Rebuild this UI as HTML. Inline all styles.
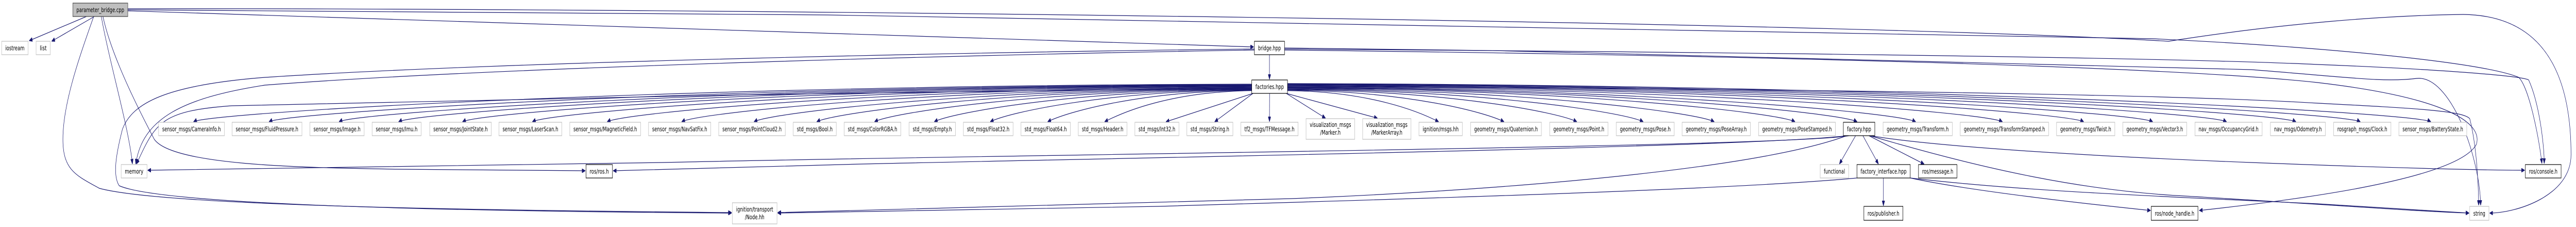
<!DOCTYPE html>
<html><head><meta charset="utf-8"><style>
html,body{margin:0;padding:0;background:#fff;width:100%;height:440px;overflow:hidden;}
svg{display:block;overflow:hidden;}
text{font-family:"DejaVu Sans","Liberation Sans",sans-serif;font-size:12.5px;fill:#000;text-anchor:middle;}
.u{fill:#fff;stroke:#bfbfbf;stroke-width:1.2;}
.d{fill:#fff;stroke:#000;stroke-width:1.2;}
.r{fill:#bfbfbf;stroke:#404040;stroke-width:1.2;}
.e{fill:none;stroke:#191970;stroke-width:1.2;marker-end:url(#a);}
</style></head><body>
<svg id="s" width="100%" height="440" viewBox="0 0 7781 440" preserveAspectRatio="none" xmlns="http://www.w3.org/2000/svg">
<defs><marker id="a" markerUnits="userSpaceOnUse" viewBox="0 0 10 8" refX="10" refY="4" markerWidth="10" markerHeight="8" orient="auto"><path d="M0,0L10,4L0,8z" fill="#191970" stroke="#191970"/></marker></defs>
<g id="edges">
<path class="e" d="M261,32 L88,79"/>
<path class="e" d="M285,32 L156,80"/>
<path class="e" d="M306,32 C330,120 390,250 400,318"/>
<path class="e" d="M311,32 C340,120 450,250 466,270 C520,320 900,325 1200,328 C1500,330 1700,331 1768,331"/>
<path class="e" d="M283,32 C240,110 190,200 190,270 C190,330 230,340 300,365 C500,400 1500,408 2210,412"/>
<path class="e" d="M386,21 L3787,91"/>
<path class="e" d="M386,19 C2500,22 5500,55 6500,75 C7000,90 7500,120 7608,150 C7640,170 7670,270 7678,317"/>
<path class="e" d="M3880,95 C5000,100 6500,110 7000,125 C7400,135 7620,148 7638,155 C7670,200 7685,280 7685,317"/>
<path class="e" d="M386,17 C2000,15 5500,40 6550,80 C6900,45 7200,30 7440,28 C7690,30 7766,150 7766,300 C7766,380 7600,413 7520,413"/>
<path class="e" d="M3880,93 C5000,100 6300,120 6800,135 C7100,150 7200,160 7300,152 C7400,145 7490,300 7493,398"/>
<path class="e" d="M3880,97 C5000,105 6500,125 7000,160 C7400,190 7500,240 7480,280 C7420,350 6900,390 6643,408"/>
<path class="e" d="M3889,168 C5000,170 6500,180 7000,200 C7300,210 7440,215 7460,230 C7480,280 7486,350 7487,398"/>
<path class="e" d="M5650,263 C5800,280 6200,300 6800,315 C7200,325 7500,330 7626,330"/>
<path class="e" d="M5648,263 C6000,330 6300,370 6600,380 C7000,395 7300,410 7458,413"/>
<path class="e" d="M5770,345 C6100,370 6500,380 7000,395 C7200,402 7400,410 7458,413"/>
<path class="e" d="M5770,345 C5950,370 6300,395 6496,408"/>
<path class="e" d="M5605,263 L5556,318"/>
<path class="e" d="M5627,263 L5674,318"/>
<path class="e" d="M5645,263 L5812,318"/>
<path class="e" d="M5689,345 L5689,399"/>
<path class="e" d="M5585,263 C5400,285 3000,300 2000,315 C1000,325 600,330 446,330"/>
<path class="e" d="M5580,263 C5300,285 3500,305 2600,318 C2200,325 2000,330 1852,331"/>
<path class="e" d="M5578,263 C5300,330 4500,370 3900,385 C3200,400 2600,410 2349,412"/>
<path class="e" d="M5609,345 C5200,370 4000,390 3500,400 C3000,405 2600,412 2349,413"/>
<path class="e" d="M3834.5,106 L3834.5,154"/>
<path class="e" d="M3789,95 C3000,100 1500,120 800,150 C500,165 400,200 370,250 C350,300 340,340 360,360 C500,400 1500,410 2210,413"/>
<path class="e" d="M3789,97 C3000,105 1500,130 800,165 C550,190 430,230 410,318"/>
<path class="e" d="M3781,170 C3000,175 1500,190 700,205 C480,215 470,240 412,318"/>
</g>
<g id="fan"></g>
<rect class="r" x="220" y="6" width="166" height="26"/><text x="303" y="23.5" textLength="144" lengthAdjust="spacingAndGlyphs">parameter_bridge.cpp</text>
<rect class="u" x="5" y="80" width="80" height="26"/><text x="45" y="97.5" textLength="58" lengthAdjust="spacingAndGlyphs">iostream</text>
<rect class="u" x="109" y="80" width="43" height="26"/><text x="130.5" y="97.5" textLength="21" lengthAdjust="spacingAndGlyphs">list</text>
<rect class="d" x="3789" y="80" width="91" height="26"/><text x="3834.5" y="97.5" textLength="69" lengthAdjust="spacingAndGlyphs">bridge.hpp</text>
<rect class="d" x="3781" y="155" width="108" height="26"/><text x="3835" y="172.5" textLength="86" lengthAdjust="spacingAndGlyphs">factories.hpp</text>

<rect class="u" x="479" y="237" width="199" height="26"/><text x="578.5" y="254.5" textLength="177" lengthAdjust="spacingAndGlyphs">sensor_msgs/CameraInfo.h</text>
<rect class="u" x="701" y="237" width="211" height="26"/><text x="806.5" y="254.5" textLength="189" lengthAdjust="spacingAndGlyphs">sensor_msgs/FluidPressure.h</text>
<rect class="u" x="936" y="237" width="164" height="26"/><text x="1018" y="254.5" textLength="142" lengthAdjust="spacingAndGlyphs">sensor_msgs/Image.h</text>
<rect class="u" x="1124" y="237" width="148" height="26"/><text x="1198" y="254.5" textLength="126" lengthAdjust="spacingAndGlyphs">sensor_msgs/Imu.h</text>
<rect class="u" x="1298" y="237" width="186" height="26"/><text x="1391" y="254.5" textLength="164" lengthAdjust="spacingAndGlyphs">sensor_msgs/JointState.h</text>
<rect class="u" x="1507" y="237" width="190" height="26"/><text x="1602" y="254.5" textLength="168" lengthAdjust="spacingAndGlyphs">sensor_msgs/LaserScan.h</text>
<rect class="u" x="1721" y="237" width="214" height="26"/><text x="1828" y="254.5" textLength="192" lengthAdjust="spacingAndGlyphs">sensor_msgs/MagneticField.h</text>
<rect class="u" x="1959" y="237" width="188" height="26"/><text x="2053" y="254.5" textLength="166" lengthAdjust="spacingAndGlyphs">sensor_msgs/NavSatFix.h</text>
<rect class="u" x="2171" y="237" width="201" height="26"/><text x="2271.5" y="254.5" textLength="179" lengthAdjust="spacingAndGlyphs">sensor_msgs/PointCloud2.h</text>
<rect class="u" x="2396" y="237" width="130" height="26"/><text x="2461" y="254.5" textLength="108" lengthAdjust="spacingAndGlyphs">std_msgs/Bool.h</text>
<rect class="u" x="2550" y="237" width="171" height="26"/><text x="2635.5" y="254.5" textLength="149" lengthAdjust="spacingAndGlyphs">std_msgs/ColorRGBA.h</text>
<rect class="u" x="2746" y="237" width="140" height="26"/><text x="2816" y="254.5" textLength="118" lengthAdjust="spacingAndGlyphs">std_msgs/Empty.h</text>
<rect class="u" x="2910" y="237" width="150" height="26"/><text x="2985" y="254.5" textLength="128" lengthAdjust="spacingAndGlyphs">std_msgs/Float32.h</text>
<rect class="u" x="3084" y="237" width="149" height="26"/><text x="3158.5" y="254.5" textLength="127" lengthAdjust="spacingAndGlyphs">std_msgs/Float64.h</text>
<rect class="u" x="3257" y="237" width="147" height="26"/><text x="3330.5" y="254.5" textLength="125" lengthAdjust="spacingAndGlyphs">std_msgs/Header.h</text>
<rect class="u" x="3428" y="237" width="133" height="26"/><text x="3494.5" y="254.5" textLength="111" lengthAdjust="spacingAndGlyphs">std_msgs/Int32.h</text>
<rect class="u" x="3585" y="237" width="139" height="26"/><text x="3654.5" y="254.5" textLength="117" lengthAdjust="spacingAndGlyphs">std_msgs/String.h</text>
<rect class="u" x="3748" y="237" width="173" height="26"/><text x="3834.5" y="254.5" textLength="151" lengthAdjust="spacingAndGlyphs">tf2_msgs/TFMessage.h</text>
<rect class="u" x="3945" y="230" width="147" height="40"/><text x="4018.5" y="246" textLength="125" lengthAdjust="spacingAndGlyphs">visualization_msgs</text><text x="4018.5" y="261" textLength="62" lengthAdjust="spacingAndGlyphs">/Marker.h</text>
<rect class="u" x="4116" y="230" width="146" height="40"/><text x="4189" y="246" textLength="125" lengthAdjust="spacingAndGlyphs">visualization_msgs</text><text x="4189" y="261" textLength="94" lengthAdjust="spacingAndGlyphs">/MarkerArray.h</text>
<rect class="u" x="4286" y="237" width="131" height="26"/><text x="4351.5" y="254.5" textLength="109" lengthAdjust="spacingAndGlyphs">ignition/msgs.hh</text>
<rect class="u" x="4442" y="237" width="214" height="26"/><text x="4549" y="254.5" textLength="192" lengthAdjust="spacingAndGlyphs">geometry_msgs/Quaternion.h</text>
<rect class="u" x="4681" y="237" width="176" height="26"/><text x="4769" y="254.5" textLength="154" lengthAdjust="spacingAndGlyphs">geometry_msgs/Point.h</text>
<rect class="u" x="4882" y="237" width="175" height="26"/><text x="4969.5" y="254.5" textLength="153" lengthAdjust="spacingAndGlyphs">geometry_msgs/Pose.h</text>
<rect class="u" x="5081" y="237" width="206" height="26"/><text x="5184" y="254.5" textLength="184" lengthAdjust="spacingAndGlyphs">geometry_msgs/PoseArray.h</text>
<rect class="u" x="5312" y="237" width="232" height="26"/><text x="5428" y="254.5" textLength="210" lengthAdjust="spacingAndGlyphs">geometry_msgs/PoseStamped.h</text>
<rect class="d" x="5568" y="237" width="95" height="26"/><text x="5615.5" y="254.5" textLength="73" lengthAdjust="spacingAndGlyphs">factory.hpp</text>
<rect class="u" x="5688" y="237" width="209" height="26"/><text x="5792.5" y="254.5" textLength="187" lengthAdjust="spacingAndGlyphs">geometry_msgs/Transform.h</text>
<rect class="u" x="5921" y="237" width="267" height="26"/><text x="6054.5" y="254.5" textLength="245" lengthAdjust="spacingAndGlyphs">geometry_msgs/TransformStamped.h</text>
<rect class="u" x="6212" y="237" width="176" height="26"/><text x="6300" y="254.5" textLength="154" lengthAdjust="spacingAndGlyphs">geometry_msgs/Twist.h</text>
<rect class="u" x="6412" y="237" width="193" height="26"/><text x="6508.5" y="254.5" textLength="171" lengthAdjust="spacingAndGlyphs">geometry_msgs/Vector3.h</text>
<rect class="u" x="6630" y="237" width="203" height="26"/><text x="6731.5" y="254.5" textLength="181" lengthAdjust="spacingAndGlyphs">nav_msgs/OccupancyGrid.h</text>
<rect class="u" x="6858" y="237" width="166" height="26"/><text x="6941" y="254.5" textLength="144" lengthAdjust="spacingAndGlyphs">nav_msgs/Odometry.h</text>
<rect class="u" x="7049" y="237" width="173" height="26"/><text x="7135.5" y="254.5" textLength="151" lengthAdjust="spacingAndGlyphs">rosgraph_msgs/Clock.h</text>
<rect class="u" x="7246" y="237" width="205" height="26"/><text x="7348.5" y="254.5" textLength="183" lengthAdjust="spacingAndGlyphs">sensor_msgs/BatteryState.h</text>

<rect class="u" x="366" y="319" width="78" height="26"/><text x="405" y="336.5" textLength="56" lengthAdjust="spacingAndGlyphs">memory</text>
<rect class="d" x="1770" y="319" width="80" height="26"/><text x="1810" y="336.5" textLength="58" lengthAdjust="spacingAndGlyphs">ros/ros.h</text>
<rect class="u" x="5498" y="319" width="86" height="26"/><text x="5541" y="336.5" textLength="64" lengthAdjust="spacingAndGlyphs">functional</text>
<rect class="d" x="5609" y="319" width="161" height="26"/><text x="5689.5" y="336.5" textLength="139" lengthAdjust="spacingAndGlyphs">factory_interface.hpp</text>
<rect class="d" x="5795" y="319" width="116" height="26"/><text x="5853" y="336.5" textLength="94" lengthAdjust="spacingAndGlyphs">ros/message.h</text>
<rect class="d" x="7628" y="319" width="108" height="26"/><text x="7682" y="336.5" textLength="86" lengthAdjust="spacingAndGlyphs">ros/console.h</text>

<rect class="u" x="2212" y="393" width="135" height="41"/><text x="2279.5" y="410" textLength="112" lengthAdjust="spacingAndGlyphs">ignition/transport</text><text x="2279.5" y="425" textLength="59" lengthAdjust="spacingAndGlyphs">/Node.hh</text>
<rect class="d" x="5630" y="400" width="118" height="27"/><text x="5689" y="418" textLength="96" lengthAdjust="spacingAndGlyphs">ros/publisher.h</text>
<rect class="d" x="6498" y="400" width="141" height="27"/><text x="6568.5" y="418" textLength="119" lengthAdjust="spacingAndGlyphs">ros/node_handle.h</text>
<rect class="u" x="7460" y="400" width="58" height="27"/><text x="7489" y="418" textLength="36" lengthAdjust="spacingAndGlyphs">string</text>
</svg>
<script>
(function(){
var cxs=[578.5,806.5,1018,1198,1391,1602,1828,2053,2271.5,2461,2635.5,2816,2985,3158.5,3330.5,3494.5,3654.5,3834.5,4018.5,4189,4351.5,4549,4769,4969.5,5184,5428,5615.5,5792.5,6054.5,6300,6508.5,6731.5,6941,7135.5,7348.5];
var g=document.getElementById('fan'),ns='http://www.w3.org/2000/svg',fx=3835,d;
cxs.forEach(function(cx){
 var ty=(cx>3900&&cx<4300)?229:236, dx=cx-fx;
 if(Math.abs(dx)<400){
   var sx=fx+Math.max(-50,Math.min(50,dx*0.35));
   d='M'+sx+',181 L'+(cx-dx*0.08)+','+ty;
 } else {
   var left=dx<0, sx=left?3781:3889;
   var k=Math.min(1,Math.abs(dx)/3500), sy=162+(1-k)*16;
   var tx=cx+(left?6:-6);
   d='M'+sx+','+sy.toFixed(1)+' C'+(sx+(cx-sx)*0.55).toFixed(1)+','+(sy+2).toFixed(1)+' '+(cx+(left?60:-60))+','+(ty-18)+' '+tx+','+ty;
 }
 var p=document.createElementNS(ns,'path');p.setAttribute('class','e');p.setAttribute('d',d);g.appendChild(p);
});
})();
</script>
</body></html>
